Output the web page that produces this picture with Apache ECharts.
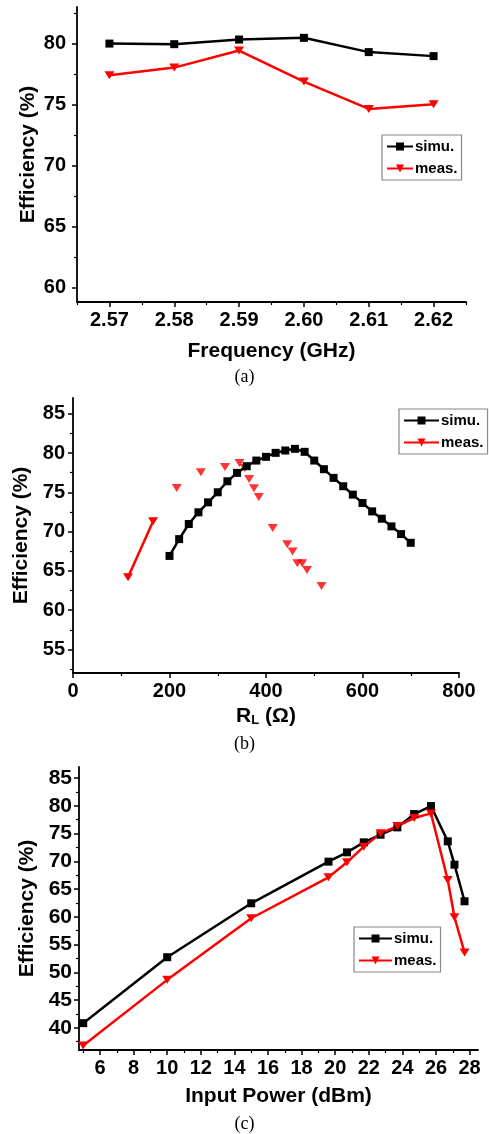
<!DOCTYPE html>
<html lang="en">
<head>
    <meta charset="UTF-8">
    <title>Efficiency</title>
    <script src="https://cdn.jsdelivr.net/npm/echarts@6/dist/echarts.min.js"></script>
    <style>
        * { margin: 0; padding: 0; }
        body, html { background: #fff; }
    </style>
</head>
<body>
<div id="main" style="width: 489px;height:1134px;"></div>
<script type="text/javascript">
    // (a) efficiency vs frequency
    var freq = [2.57, 2.58, 2.59, 2.60, 2.61, 2.62];
    var simuA = [80.0, 79.95, 80.33, 80.47, 79.3, 78.97];
    var measA = [77.4, 78.03, 79.43, 76.88, 74.64, 75.02];

    // (b) efficiency vs load resistance
    var rlSimu = [200, 220, 240, 260, 280, 300, 320, 340, 360, 380, 400, 420, 440,
                  460, 480, 500, 520, 540, 560, 580, 600, 620, 640, 660, 680, 700];
    var simuB = [66.9, 69.04, 70.96, 72.45, 73.72, 75.0, 76.4, 77.47, 78.32, 79.04, 79.51, 80.02, 80.32,
                 80.53, 80.15, 79.04, 77.94, 76.83, 75.77, 74.7, 73.64, 72.57, 71.64, 70.66, 69.68, 68.57];
    var rlMeas = [114, 166, 215, 265, 315, 345, 356, 365, 375, 385, 414, 444, 455, 465, 475, 485, 515];
    var measB = [64.2, 71.3, 75.55, 77.55, 78.23, 78.74, 78.1, 76.7, 75.5, 74.4, 70.45, 68.4, 67.46,
                 65.98, 65.98, 65.12, 63.08];
    var measBJoined = 2; // only the first two measured points are joined by a line

    // (c) efficiency vs input power
    var pin = [5, 10, 15, 19.6, 20.7, 21.7, 22.7, 23.7, 24.7, 25.7, 26.7, 27.1, 27.7];
    var simuC = [40.84, 52.72, 62.44, 69.94, 71.62, 73.42, 74.8, 76.12, 78.52, 79.96, 73.6, 69.4, 62.8];
    var measC = [36.82, 48.64, 59.74, 67.12, 69.82, 72.64, 75.04, 76.36, 77.8, 78.64, 66.64, 59.92, 53.56];

    // tick values
    var yTicksA = [60, 65, 70, 75, 80];
    var yMinorA = [62.5, 67.5, 72.5, 77.5, 82.5];
    var xTicksA = [2.57, 2.58, 2.59, 2.60, 2.61, 2.62];
    var xMinorA = [2.565, 2.575, 2.585, 2.595, 2.605, 2.615, 2.625];
    var yTicksB = [55, 60, 65, 70, 75, 80, 85];
    var yMinorB = [52.5, 57.5, 62.5, 67.5, 72.5, 77.5, 82.5];
    var xTicksB = [0, 200, 400, 600, 800];
    var xMinorB = [100, 300, 500, 700];
    var yTicksC = [40, 45, 50, 55, 60, 65, 70, 75, 80, 85];
    var yMinorC = [37.5, 42.5, 47.5, 52.5, 57.5, 62.5, 67.5, 72.5, 77.5, 82.5];
    var xTicksC = [6, 8, 10, 12, 14, 16, 18, 20, 22, 24, 26, 28];
    var xMinorC = [5, 7, 9, 11, 13, 15, 17, 19, 21, 23, 25, 27];

    function pairs(xs, ys) {
        return xs.map(function (x, i) { return [x, ys[i]]; });
    }

    var FONT = 'Liberation Sans';
    var lab = { fontFamily: FONT, fontWeight: 'bold', fontSize: 20, color: '#000' };

    function majorAxis(min, max, ticks, fmt, extra) {
        var ax = {
            type: 'value', min: min, max: max,
            axisLine: { show: true, onZero: false, lineStyle: { color: '#000', width: 1.8 } },
            axisTick: { show: true, length: 5, lineStyle: { color: '#000', width: 1.5 }, customValues: ticks },
            axisLabel: Object.assign({ customValues: ticks, margin: 8, formatter: fmt }, lab),
            splitLine: { show: false },
            nameLocation: 'middle',
            nameTextStyle: { fontFamily: FONT, fontWeight: 'bold', fontSize: 21, color: '#000' }
        };
        return Object.assign(ax, extra || {});
    }
    // second axis on the same side, only for the short minor ticks
    function minorAxis(min, max, ticks, grid, pos) {
        return {
            type: 'value', min: min, max: max, gridIndex: grid, position: pos,
            axisLine: { show: false, onZero: false },
            axisTick: { show: true, length: 3, lineStyle: { color: '#000', width: 1.2 }, customValues: ticks },
            axisLabel: { show: false },
            splitLine: { show: false }
        };
    }

    var simuStyle = {
        type: 'line', name: 'simu.', symbol: 'rect', symbolSize: 8,
        lineStyle: { color: '#000', width: 2.5 }, itemStyle: { color: '#000' }
    };
    var measStyle = {
        type: 'line', name: 'meas.', symbol: 'triangle', symbolSize: [10, 8], symbolRotate: 180,
        lineStyle: { color: '#ff0000', width: 2.5 }, itemStyle: { color: '#ff0000' }
    };
    function s(base, extra) { return Object.assign({}, base, extra); }

    function legend(left, top, w) {
        return {
            orient: 'vertical', left: left, top: top, data: ['simu.', 'meas.'],
            itemWidth: w, itemHeight: 10, itemGap: 7,
            padding: [4, 4, 4, 4],
            borderColor: '#888', borderWidth: 1.2,
            selectedMode: false,
            textStyle: { fontFamily: FONT, fontWeight: 'bold', fontSize: 15, color: '#000', padding: [0, 0, 0, -3] }
        };
    }

    var myChart = echarts.init(document.getElementById('main'), null, { renderer: 'canvas' });

    var option = {
        animation: false,
        backgroundColor: '#fff',
        grid: [
            { left: 77, top: 7, width: 389, height: 295 },
            { left: 73, top: 398, width: 386, height: 275 },
            { left: 79, top: 767, width: 399, height: 283 }
        ],
        xAxis: [
            majorAxis(2.565, 2.625, xTicksA, function (v) { return v.toFixed(2); },
                { gridIndex: 0, position: 'bottom', name: 'Frequency (GHz)', nameGap: 39 }),
            minorAxis(2.565, 2.625, xMinorA, 0, 'bottom'),
            majorAxis(0, 800, xTicksB, null, {
                gridIndex: 1, position: 'bottom', nameGap: 33,
                name: '{r|R}{s|L}{r| (Ω)}',
                nameTextStyle: {
                    rich: {
                        r: { fontFamily: FONT, fontWeight: 'bold', fontSize: 21, color: '#000' },
                        s: { fontFamily: FONT, fontWeight: 'bold', fontSize: 13, color: '#000', padding: [8, 0, 0, 0] }
                    }
                }
            }),
            minorAxis(0, 800, xMinorB, 1, 'bottom'),
            majorAxis(4.75, 28.5, xTicksC, null, { gridIndex: 2, position: 'bottom', name: 'Input Power (dBm)', nameGap: 36 }),
            minorAxis(4.75, 28.5, xMinorC, 2, 'bottom')
        ],
        yAxis: [
            majorAxis(58.8, 83, yTicksA, null, { gridIndex: 0, position: 'left', name: 'Efficiency (%)',
                nameGap: 38, nameMoveOverlap: false,
                axisLabel: Object.assign({ customValues: yTicksA, margin: 11 }, lab) }),
            minorAxis(58.8, 83, yMinorA, 0, 'left'),
            majorAxis(52, 87, yTicksB, null, { gridIndex: 1, position: 'left', name: 'Efficiency (%)', nameGap: 40 }),
            minorAxis(52, 87, yMinorB, 1, 'left'),
            majorAxis(36, 87, yTicksC, null, { gridIndex: 2, position: 'left', name: 'Efficiency (%)', nameGap: 41,
                axisLabel: Object.assign({}, lab, { customValues: yTicksC, margin: 7, fontSize: 21 }) }),
            minorAxis(36, 87, yMinorC, 2, 'left')
        ],
        legend: [
            legend(382, 135, 26),
            legend(399, 409, 35),
            legend(354, 927, 33)
        ],
        graphic: [
            { type: 'text', left: 'center', top: 368, style: { text: '(a)', font: '18px "Liberation Serif"', fill: '#000' } },
            { type: 'text', left: 'center', top: 735, style: { text: '(b)', font: '18px "Liberation Serif"', fill: '#000' } },
            { type: 'text', left: 'center', top: 1115, style: { text: '(c)', font: '18px "Liberation Serif"', fill: '#000' } }
        ],
        series: [
            s(simuStyle, { xAxisIndex: 0, yAxisIndex: 0, data: pairs(freq, simuA) }),
            s(measStyle, { xAxisIndex: 0, yAxisIndex: 0, data: pairs(freq, measA) }),
            s(simuStyle, { xAxisIndex: 2, yAxisIndex: 2, data: pairs(rlSimu, simuB) }),
            s(measStyle, { xAxisIndex: 2, yAxisIndex: 2,
                data: pairs(rlMeas.slice(0, measBJoined), measB.slice(0, measBJoined)) }),
            s(measStyle, { type: 'scatter', xAxisIndex: 2, yAxisIndex: 2,
                data: pairs(rlMeas.slice(measBJoined), measB.slice(measBJoined)) }),
            s(simuStyle, { xAxisIndex: 4, yAxisIndex: 4, data: pairs(pin, simuC) }),
            s(measStyle, { xAxisIndex: 4, yAxisIndex: 4, data: pairs(pin, measC) })
        ]
    };

    myChart.setOption(option);
</script>
</body>
</html>
